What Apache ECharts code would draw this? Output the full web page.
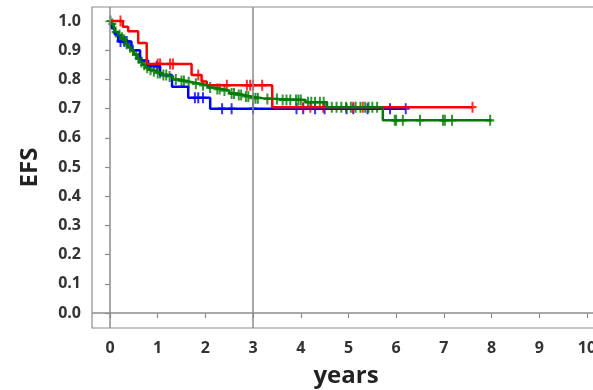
<!DOCTYPE html>
<html>
<head>
<meta charset="utf-8">
<script src="https://cdn.jsdelivr.net/npm/echarts@6/dist/echarts.min.js"></script>
<style>
  html, body { margin: 0; padding: 0; background: #fff; }
  #chart { width: 593px; height: 390px; }
</style>
</head>
<body>
<div id="chart"></div>
<script>
// Kaplan-Meier step data (time in years, survival)
const redT = [0, 0.27, 0.38, 0.59, 0.77, 1.71, 1.92, 2.03, 3.4, 7.6];
const redS = [1.0, 0.98, 0.965, 0.925, 0.853, 0.815, 0.793, 0.78, 0.705, 0.705];
const redCensor = [0.22, 1.0, 1.05, 1.26, 1.32, 1.85, 2.45, 2.87, 2.94, 3.0, 3.19, 4.05, 4.2, 4.47, 5.1, 5.3, 7.6];

const blueT = [0, 0.04, 0.1, 0.17, 0.45, 0.63, 0.8, 1.05, 1.3, 1.64, 2.1, 6.2];
const blueS = [1.0, 0.975, 0.955, 0.93, 0.9, 0.865, 0.845, 0.815, 0.775, 0.737, 0.7, 0.7];
const blueCensor = [0.22, 0.3, 0.35, 0.98, 1.78, 1.85, 1.95, 2.35, 2.55, 3.0, 3.91, 4.05, 4.3, 4.5, 4.96, 5.1, 5.4, 5.87, 6.2];

const greenT = [0, 0.03, 0.08, 0.12, 0.17, 0.22, 0.27, 0.33, 0.38, 0.44, 0.5, 0.56, 0.62, 0.68, 0.75, 0.82, 0.9, 0.98, 1.08, 1.2, 1.32, 1.45, 1.6, 1.75, 1.9, 2.05, 2.2, 2.35, 2.5, 2.65, 2.8, 2.95, 3.2, 3.55, 4.1, 4.55, 5.72, 8.0];
const greenS = [1.0, 0.99, 0.975, 0.962, 0.952, 0.943, 0.935, 0.922, 0.91, 0.9, 0.885, 0.872, 0.86, 0.85, 0.84, 0.833, 0.828, 0.822, 0.815, 0.81, 0.8, 0.795, 0.79, 0.785, 0.78, 0.772, 0.767, 0.762, 0.752, 0.747, 0.742, 0.736, 0.733, 0.73, 0.722, 0.705, 0.66, 0.66];
const greenCensor = [0.01, 0.05, 0.12, 0.2, 0.25, 0.3, 0.35, 0.42, 0.48, 0.55, 0.6, 0.66, 0.72, 0.78, 0.85, 0.92, 1.0, 1.05, 1.12, 1.18, 1.25, 1.38, 1.5, 1.55, 1.65, 1.8, 1.95, 2.1, 2.25, 2.3, 2.4, 2.55, 2.6, 2.7, 2.75, 2.85, 2.9, 3.0, 3.05, 3.1, 3.3, 3.4, 3.5, 3.62, 3.7, 3.78, 3.9, 3.95, 4.0, 4.15, 4.22, 4.3, 4.4, 4.48, 4.65, 4.75, 4.85, 4.95, 5.05, 5.15, 5.25, 5.35, 5.42, 5.5, 5.6, 5.97, 6.0, 6.14, 6.5, 6.98, 7.02, 7.17, 7.97];

const xTicks = [0, 1, 2, 3, 4, 5, 6, 7, 8, 9, 10];
const yTicks = [0, 0.1, 0.2, 0.3, 0.4, 0.5, 0.6, 0.7, 0.8, 0.9, 1.0];

const PLUS = 'path://M-1,-5H1V-1H4V1H1V5H-1V1H-4V-1H-1Z';

function stepValue(ts, ss, t) {
    let v = ss[0];
    for (let i = 0; i < ts.length; i++) {
        if (ts[i] <= t) v = ss[i];
    }
    return v;
}

function curve(name, color, ts, ss) {
    return {
        name: name,
        type: 'line',
        step: 'end',
        showSymbol: false,
        data: ts.map((t, i) => [t, ss[i]]),
        lineStyle: { color: color, width: 2.5 },
        itemStyle: { color: color }
    };
}

function censor(name, color, ts, ss, times) {
    return {
        name: name,
        type: 'scatter',
        symbol: PLUS,
        symbolSize: [8, 11],
        data: times.map(t => [t, stepValue(ts, ss, t)]),
        itemStyle: { color: color }
    };
}

const chart = echarts.init(document.getElementById('chart'));

const axisFont = {
    color: '#333',
    fontSize: 16,
    fontWeight: 'bold',
    fontFamily: 'Open Sans'
};

const option = {
    animation: false,
    grid: {
        left: 92,
        top: 7,
        width: 508,
        height: 321,
        outerBoundsMode: 'none',
        containLabel: false,
        show: true,
        borderColor: '#8c8c8c',
        borderWidth: 1.2
    },
    xAxis: {
        type: 'value',
        min: -0.377,
        max: 10.273,
        name: 'years',
        nameLocation: 'middle',
        nameGap: 36,
        nameTextStyle: { color: '#222', fontSize: 24, fontWeight: 'bold', fontFamily: 'Open Sans' },
        axisLine: { show: false },
        splitLine: { show: false },
        axisTick: { show: true, customValues: xTicks, length: 5, lineStyle: { color: '#8c8c8c', width: 1.2 } },
        axisLabel: Object.assign({ customValues: xTicks, margin: 12 }, axisFont)
    },
    yAxis: {
        type: 'value',
        min: -0.051,
        max: 1.048,
        name: 'EFS',
        nameLocation: 'middle',
        nameGap: 50,
        nameTextStyle: { color: '#222', fontSize: 24, fontWeight: 'bold', fontFamily: 'Open Sans' },
        axisLine: { show: false },
        splitLine: { show: false },
        axisTick: { show: true, customValues: yTicks, length: 5, lineStyle: { color: '#8c8c8c', width: 1.2 } },
        axisLabel: Object.assign({
            customValues: yTicks,
            margin: 11,
            formatter: v => v.toFixed(1)
        }, axisFont)
    },
    series: [
        Object.assign(curve('blue', '#0000ff', blueT, blueS), {
            markLine: {
                silent: true,
                symbol: 'none',
                label: { show: false },
                lineStyle: { color: '#8c8c8c', width: 1.5, type: 'solid' },
                data: [{ xAxis: 0 }, { xAxis: 3 }, { yAxis: 0 }]
            }
        }),
        censor('blue', '#0000ff', blueT, blueS, blueCensor),
        curve('red', '#ff0000', redT, redS),
        censor('red', '#ff0000', redT, redS, redCensor),
        curve('green', '#007a00', greenT, greenS),
        censor('green', '#007a00', greenT, greenS, greenCensor)
    ]
};

chart.setOption(option);
</script>
</body>
</html>
